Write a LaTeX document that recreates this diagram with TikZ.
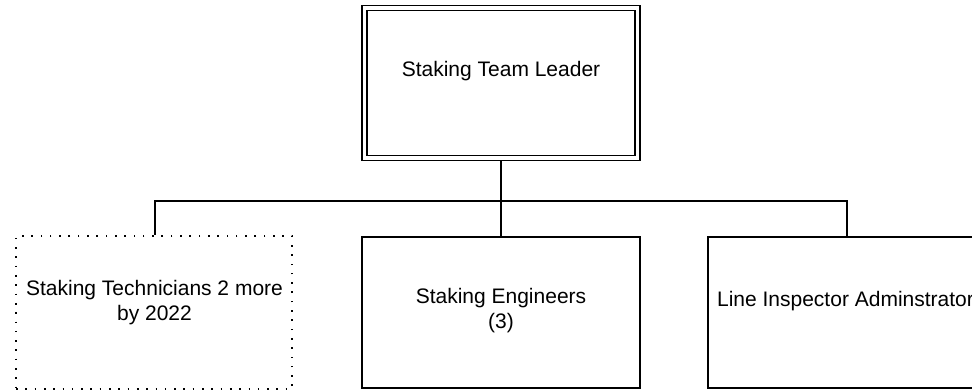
\documentclass[tikz,border=0pt]{standalone}
\usepackage{fontspec}
\setmainfont{Liberation Sans}
\begin{document}
\begin{tikzpicture}[x=1pt,y=-1pt,
  every node/.style={font=\fontsize{21}{25}\selectfont},
  box/.style={draw, line width=1.6pt, inner sep=0pt},
  leadbox/.style={draw, line width=1.5pt, double, double distance=3.5pt,
    inner sep=0pt, outer sep=3.25pt},
  dotbox/.style={draw, line width=1.6pt, dash pattern=on 1.6pt off 7.7pt, inner sep=0pt},
  txt/.style={inner sep=0pt, align=center},
  link/.style={draw, line width=1.6pt}]
\useasboundingbox (0,0) rectangle (972,390);
\clip (0,0) rectangle (972,390);
\fill[white] (0,0) rectangle (972,390);

% leader box with double border
\node[leadbox, minimum width=273pt, minimum height=150pt] (lead) at (501,83) {};
\node[txt] (leadtxt) at (501,71.5) {Staking Team Leader};

% three teams below
\node[dotbox, minimum width=276pt, minimum height=153pt] (tech) at (154,312.5) {};
\node[txt] (techtxt) at (154.5,303) {Staking Technicians 2 more\\by 2022};

\node[box, minimum width=278pt, minimum height=151pt] (eng) at (501,312.5) {};
\node[txt] (engtxt) at (501,311) {Staking Engineers\\(3)};

\node[box, minimum width=280pt, minimum height=151pt] (insp) at (848,312.5) {};
\node[txt] (insptxt) at (845.5,301.5) {Line Inspector Adminstrator};

% reporting lines
\coordinate (bus) at (501,201);
\draw[link] (lead.south) -- (bus);
\draw[link] (bus) -| ([xshift=1pt]tech.north);
\draw[link] (bus) -- (eng.north);
\draw[link] (bus) -| ([xshift=-1pt]insp.north);
\end{tikzpicture}
\end{document}
